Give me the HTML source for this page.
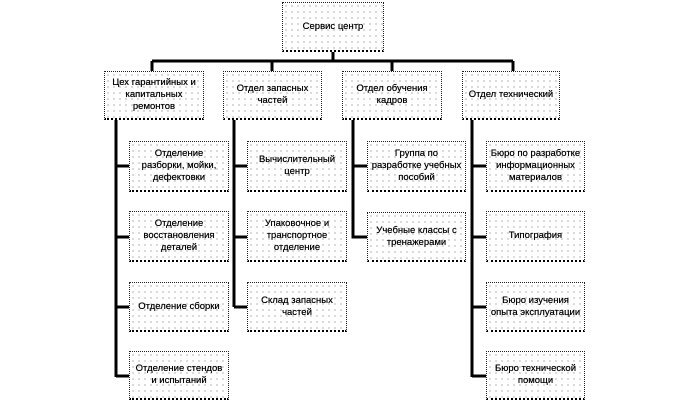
<!DOCTYPE html>
<html><head><meta charset="utf-8"><style>
body{margin:0;width:690px;height:406px;background:#fff;position:relative;overflow:hidden;font-family:"Liberation Sans","DejaVu Sans",sans-serif;}
.b{position:absolute;box-sizing:border-box;border:1px dotted #222;border-bottom:2px dotted #000;
background-color:#fff;background-image:radial-gradient(circle,#aaa 0.6px,transparent 0.9px);background-size:6px 6px;
display:flex;align-items:center;justify-content:center;text-align:center;font-size:9.5px;line-height:12px;color:#000;padding:0 2px;text-shadow:0 0 0.4px #000;}
svg{position:absolute;left:0;top:0}
</style></head><body>
<svg width="690" height="406"><g stroke="#000" stroke-width="3" fill="none">
<path d="M333 52V61M152 61H513M152 61V72M272 61V72M392 61V72M513 61V72"/>
<path d="M116 120V377M116 166H130M116 237H130M116 307H130M116 376H130"/>
<path d="M234 120V307M234 166H248M234 237H248M234 307H248"/>
<path d="M353 120V237H368M353 166H368"/>
<path d="M472 120V377M472 166H486M472 237H486M472 307H486M472 376H486"/>
</g></svg>
<div class="b" style="left:282px;top:2px;width:102px;height:50px">Сервис центр</div>
<div class="b" style="left:104px;top:71px;width:100px;height:49px">Цех гарантийных и капитальных ремонтов</div>
<div class="b" style="left:223px;top:71px;width:99px;height:49px">Отдел запасных частей</div>
<div class="b" style="left:342px;top:71px;width:100px;height:49px">Отдел обучения кадров</div>
<div class="b" style="left:462px;top:71px;width:98px;height:49px">Отдел технический</div>

<div class="b" style="left:129px;top:141px;width:100px;height:51px">Отделение разборки, мойки, дефектовки</div>
<div class="b" style="left:129px;top:211px;width:100px;height:51px">Отделение восстановления деталей</div>
<div class="b" style="left:129px;top:282px;width:100px;height:50px">Отделение сборки</div>
<div class="b" style="left:129px;top:351px;width:100px;height:49px">Отделение стендов и испытаний</div>

<div class="b" style="left:247px;top:141px;width:100px;height:51px">Вычислительный центр</div>
<div class="b" style="left:247px;top:211px;width:100px;height:51px">Упаковочное и транспортное отделение</div>
<div class="b" style="left:247px;top:282px;width:100px;height:50px">Склад запасных частей</div>

<div class="b" style="left:367px;top:141px;width:99px;height:51px">Группа по разработке учебных пособий</div>
<div class="b" style="left:367px;top:212px;width:99px;height:50px">Учебные классы с тренажерами</div>

<div class="b" style="left:486px;top:141px;width:99px;height:51px">Бюро по разработке информационных материалов</div>
<div class="b" style="left:486px;top:211px;width:99px;height:51px">Типография</div>
<div class="b" style="left:486px;top:282px;width:99px;height:50px">Бюро изучения опыта эксплуатации</div>
<div class="b" style="left:486px;top:351px;width:99px;height:49px">Бюро технической помощи</div>
</body></html>
